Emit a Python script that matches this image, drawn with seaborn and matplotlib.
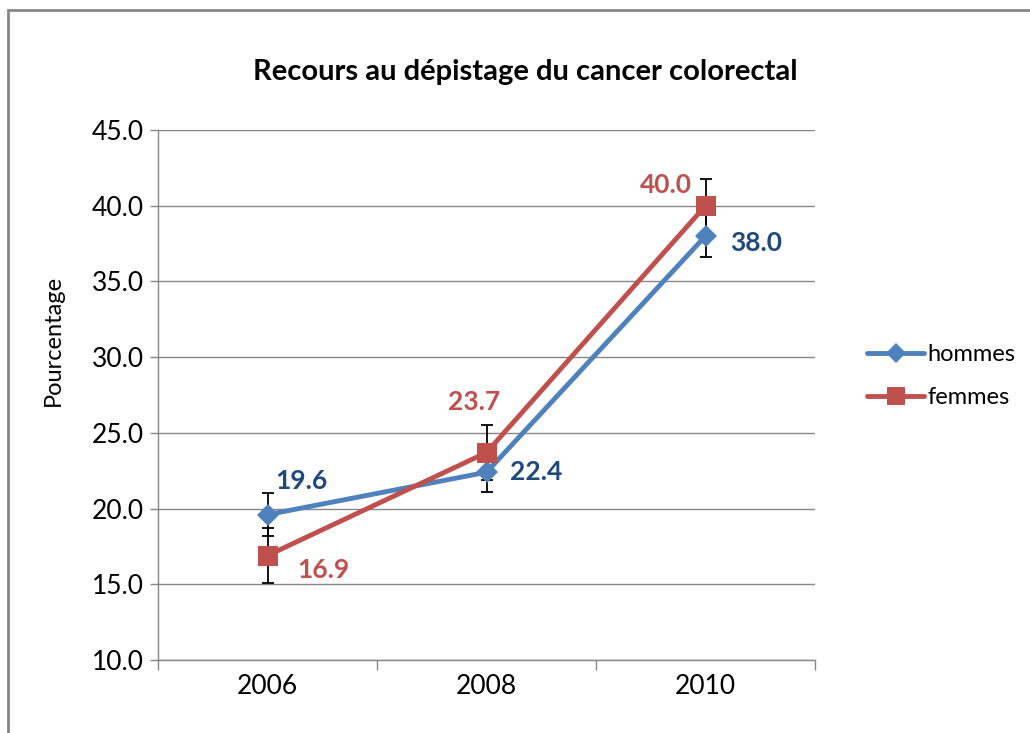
import pandas as pd
import matplotlib.pyplot as plt
from matplotlib.patches import Rectangle
from matplotlib.lines import Line2D
import seaborn as sns

sns.set_theme(style="white")
plt.rcParams['font.family'] = ['Lato', 'DejaVu Sans']
plt.rcParams['text.color'] = 'black'
plt.rcParams['axes.labelcolor'] = 'black'
plt.rcParams['xtick.color'] = 'black'
plt.rcParams['ytick.color'] = 'black'

years = ['2006', '2008', '2010']
hommes = [19.6, 22.4, 38.0]
femmes = [16.9, 23.7, 40.0]
hommes_err = [1.4, 1.3, 1.4]
femmes_err = [1.8, 1.8, 1.75]
series = ['hommes', 'femmes']

df = pd.DataFrame({
    'pos': list(range(len(years))) * 2,
    'value': hommes + femmes,
    'serie': ['hommes'] * len(years) + ['femmes'] * len(years),
})

line_colors = {'hommes': '#4F81BD', 'femmes': '#C0504D'}
label_colors = {'hommes': '#1F497D', 'femmes': '#C0504D'}

fig = plt.figure(figsize=(10.3, 7.33), dpi=100)
ax = fig.add_axes([158 / 1030, 1 - 660 / 733, (815 - 158) / 1030, (660 - 130) / 733])

# chart frame
fig.patches.append(Rectangle((8 / 1030, -0.01), 1.05, 1 - 10 / 733 + 0.01,
                             transform=fig.transFigure, fill=False,
                             edgecolor='#868686', linewidth=2))

# error bars (behind markers)
for i in range(len(years)):
    ax.errorbar(i, hommes[i], yerr=hommes_err[i], fmt='none', ecolor='black',
                elinewidth=1.3, capsize=4.5, capthick=1.3, zorder=2)
    ax.errorbar(i, femmes[i], yerr=femmes_err[i], fmt='none', ecolor='black',
                elinewidth=1.3, capsize=4.5, capthick=1.3, zorder=2)

sns.lineplot(data=df, x='pos', y='value', hue='serie', style='serie',
             hue_order=series, style_order=series, palette=line_colors,
             markers={'hommes': 'D', 'femmes': 's'}, dashes=False,
             linewidth=3.5, markeredgewidth=0, ax=ax, zorder=3, legend=False)
for line, ms in zip(ax.lines[-2:], [11, 14]):
    line.set_markersize(ms)

# data labels
offsets_h = [(34, 34), (50, 0), (51, -7)]
offsets_f = [(56, -14), (-12, 51), (-40, 21)]
for i in range(len(years)):
    ax.annotate(f"{hommes[i]:.1f}", (i, hommes[i]), xytext=offsets_h[i],
                textcoords='offset pixels', ha='center', va='center',
                fontsize=19, fontweight='bold', color=label_colors['hommes'])
    ax.annotate(f"{femmes[i]:.1f}", (i, femmes[i]), xytext=offsets_f[i],
                textcoords='offset pixels', ha='center', va='center',
                fontsize=19, fontweight='bold', color=label_colors['femmes'])

ax.set_xlim(-0.5, len(years) - 0.5)
ax.set_ylim(10, 45)
ax.set_yticks(range(10, 46, 5))
ax.set_yticklabels([f"{v:.1f}" for v in range(10, 46, 5)], fontsize=19)
ax.set_xticks(range(len(years)))
ax.set_xticklabels(years, fontsize=19)
ax.set_xticks([i - 0.5 for i in range(len(years) + 1)], minor=True)
ax.tick_params(axis='x', which='major', length=0, pad=10)
ax.tick_params(axis='x', which='minor', length=7, width=1, color='#868686', direction='out', bottom=True)
ax.tick_params(axis='y', length=6, width=1, color='#868686', direction='out', left=True, pad=4)
ax.yaxis.grid(True, color='#868686', linewidth=1)
ax.set_axisbelow(True)
for side in ['top', 'right']:
    ax.spines[side].set_visible(False)
for side in ['left', 'bottom']:
    ax.spines[side].set_color('#868686')
    ax.spines[side].set_linewidth(1)
ax.set_xlabel('')
ax.set_ylabel('Pourcentage', fontsize=17)
ax.yaxis.label.set_va('center')
ax.yaxis.set_label_coords((53 - 158) / 657, (660 - 340) / 530)

fig.text(525 / 1030, 1 - 72 / 733, 'Recours au dépistage du cancer colorectal',
         ha='center', va='center', fontsize=21, fontweight='bold')

# legend
handles = [Line2D([], [], color=line_colors['hommes'], marker='D', markersize=10, lw=3.5, markeredgewidth=0),
           Line2D([], [], color=line_colors['femmes'], marker='s', markersize=13, lw=3.5, markeredgewidth=0)]
fig.legend(handles, series, loc='center left', bbox_to_anchor=(846 / 1030, 1 - 376 / 733),
           frameon=False, fontsize=17, handlelength=2.4, handletextpad=0.15, labelspacing=0.95)

fig.savefig('out.png', dpi=100)
